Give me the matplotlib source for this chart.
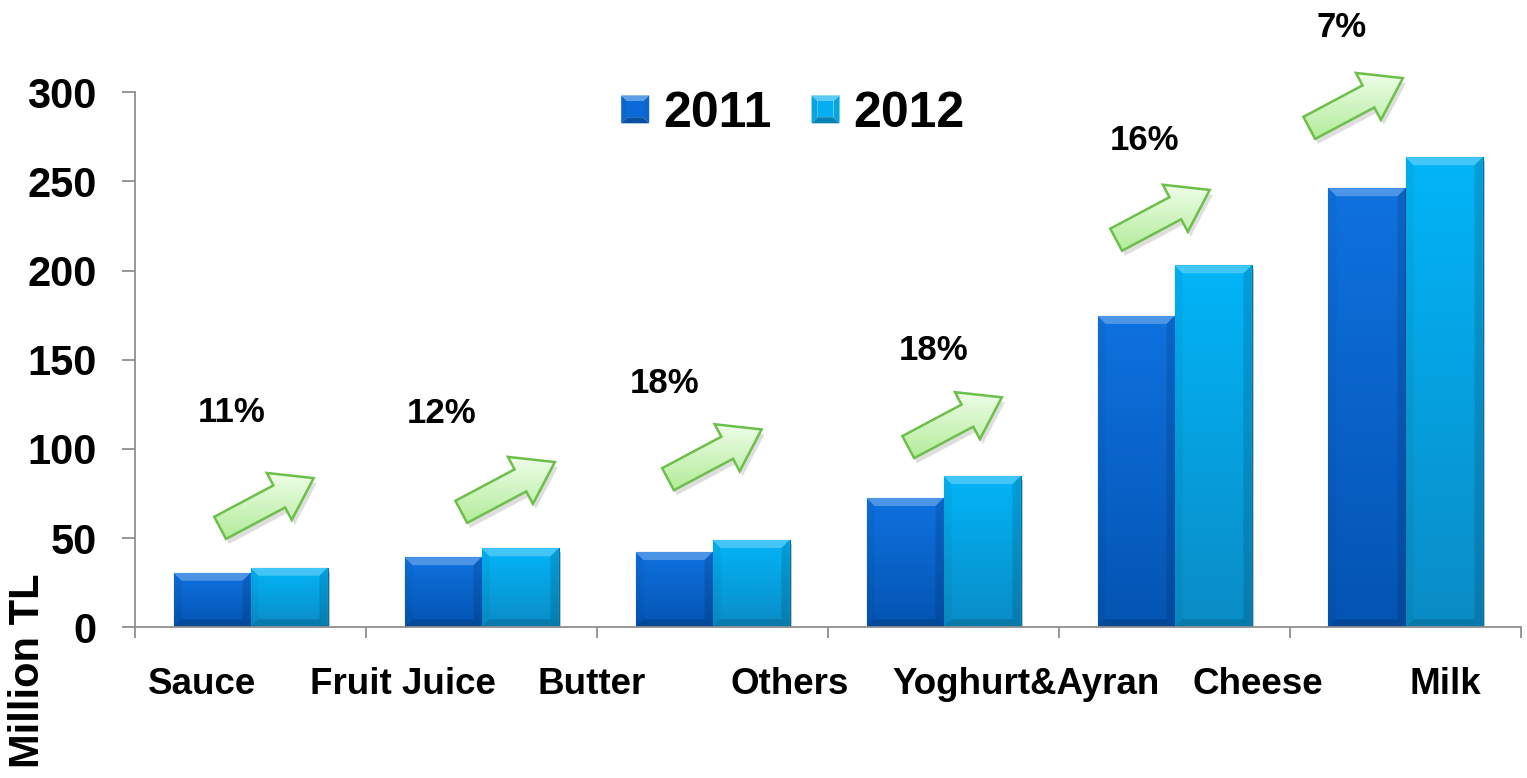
import numpy as np
import matplotlib
matplotlib.use("Agg")
import matplotlib.pyplot as plt
from matplotlib.patches import Polygon, Rectangle
from matplotlib.colors import LinearSegmentedColormap, to_rgb
from matplotlib.legend_handler import HandlerBase
import matplotlib.patheffects as pe

# ---- data -------------------------------------------------------------
years = ["2011", "2012"]
sales_2011 = [30.6, 39.3, 42.2, 72.5, 174.6, 246.2]   # million TL
sales_2012 = [33.4, 44.3, 49.0, 84.8, 203.0, 263.6]   # million TL
growth_labels = ["11%", "12%", "18%", "18%", "16%", "7%"]
axis_labels = ["Sauce", "Fruit Juice", "Butter", "Others",
               "Yoghurt&Ayran", "Cheese", "Milk"]
y_ticks = [0, 50, 100, 150, 200, 250, 300]

# ---- layout / style ---------------------------------------------------
label_x = [-0.21, 0.66, 1.478, 2.335, 3.357, 4.361, 5.171]
growth_text_pos = [(-0.08, 115.3), (0.825, 114.6), (1.794, 131.4),
                   (2.959, 149.9), (3.872, 267.7), (4.723, 331.1)]
arrow_centres = [(0.071, 69.7), (1.115, 78.7), (2.01, 97.0),
                 (3.05, 115.0), (3.95, 231.3), (4.786, 294.0)]

FONT = ["Liberation Sans", "DejaVu Sans"]
plt.rcParams["font.family"] = FONT
plt.rcParams["font.weight"] = "bold"

C2011_TOP, C2011_BOT = "#0f72e0", "#0454b2"
C2012_TOP, C2012_BOT = "#02b5f8", "#0a8cc6"
AXIS_GREY = "#8f8f8f"

W_PX, H_PX = 1527, 778
fig = plt.figure(figsize=(W_PX / 100, H_PX / 100), dpi=100)
fig.patch.set_facecolor("white")

y0_px = 627.3          # pixel row of value 0
px_per_unit = 535.0 / 300.0
ax = fig.add_axes([135 / W_PX, 1 - y0_px / H_PX, (1521 - 135) / W_PX, y0_px / H_PX])
XLIM = (-0.5, 5.5)
YLIM = (0, y0_px / px_per_unit)
ax.set_xlim(*XLIM)
ax.set_ylim(*YLIM)
ax.set_autoscale_on(False)

for s in ("top", "right"):
    ax.spines[s].set_visible(False)
for s in ("left", "bottom"):
    ax.spines[s].set_color(AXIS_GREY)
    ax.spines[s].set_linewidth(1.3)
ax.spines["left"].set_bounds(0, 300)

ax.set_yticks(y_ticks)
ax.set_yticklabels([str(v) for v in y_ticks], fontsize=30, fontweight="bold")
ax.tick_params(axis="y", length=9.5, width=1.3, color=AXIS_GREY, pad=18)
ax.set_xticks([])
ax.set_xticks(np.arange(-0.5, 6.0, 1.0), minor=True)
ax.tick_params(axis="x", which="minor", length=8, width=1.3, color=AXIS_GREY,
               direction="out")

# pixel -> data scale factors
fig.canvas.draw()
sx = ax.bbox.width / (XLIM[1] - XLIM[0])
sy = ax.bbox.height / (YLIM[1] - YLIM[0])


def vgrad(top, bottom):
    return LinearSegmentedColormap.from_list("g", [bottom, top])


grad = np.linspace(0, 1, 256).reshape(-1, 1)


def bevel_bar(rect, top, bottom):
    x0, yb = rect.get_x(), rect.get_y()
    w, h = rect.get_width(), rect.get_height()
    im = ax.imshow(grad, cmap=vgrad(top, bottom), origin="lower", aspect="auto",
                   extent=(x0, x0 + w, yb, yb + h), zorder=2.1,
                   interpolation="bicubic")
    im.set_clip_path(rect)
    b = 8 / sx
    c = 8 / sy
    facets = [
        ([(x0, yb + h), (x0 + w, yb + h), (x0 + w - b, yb + h - c), (x0 + b, yb + h - c)], "white", 0.26),
        ([(x0, yb), (x0, yb + h), (x0 + b, yb + h - c), (x0 + b, yb + c)], "black", 0.04),
        ([(x0 + w, yb), (x0 + w, yb + h), (x0 + w - b, yb + h - c), (x0 + w - b, yb + c)], "black", 0.12),
        ([(x0, yb), (x0 + w, yb), (x0 + w - b, yb + c), (x0 + b, yb + c)], "black", 0.14),
    ]
    for pts, col, a in facets:
        ax.add_patch(Polygon(pts, closed=True, facecolor=col, alpha=a,
                             edgecolor="none", zorder=2.2))


x = np.arange(len(sales_2011))
bw = 1 / 3
shadow = [pe.SimplePatchShadow(offset=(1.5, -3), shadow_rgbFace="black", alpha=0.2),
          pe.Normal()]
bars1 = ax.bar(x - bw / 2, sales_2011, bw, color=C2011_BOT, edgecolor="#064a98",
               linewidth=0.8, zorder=2, label=years[0])
bars2 = ax.bar(x + bw / 2, sales_2012, bw, color=C2012_BOT, edgecolor="#0b6f9c",
               linewidth=0.8, zorder=2, label=years[1])
for r in bars1:
    r.set_path_effects(shadow)
    bevel_bar(r, C2011_TOP, C2011_BOT)
for r in bars2:
    r.set_path_effects(shadow)
    bevel_bar(r, C2012_TOP, C2012_BOT)

# ---- growth arrows ------------------------------------------------------
ang = np.deg2rad(28)
u = np.array([np.cos(ang), np.sin(ang)])
v = np.array([-np.sin(ang), np.cos(ang)])
arrow_uv = [(-53, -12.5), (14, -12.5), (14, -26.6), (53, 0),
            (14, 26.6), (14, 12.5), (-53, 12.5)]
green_cmap = vgrad("#eefde8", "#b2ec9a")

for cx, cy in arrow_centres:
    pts = [(cx + (a * u[0] + b * v[0]) / sx, cy + (a * u[1] + b * v[1]) / sy)
           for a, b in arrow_uv]
    sh = [(px + 3 / sx, py - 5 / sy) for px, py in pts]
    ax.add_patch(Polygon(sh, closed=True, facecolor="black", alpha=0.13,
                         edgecolor="none", zorder=2.9))
    arr = Polygon(pts, closed=True, facecolor="none", edgecolor="#6cc04a",
                  linewidth=1.8, joinstyle="miter", zorder=3.1)
    ax.add_patch(arr)
    xs = [p[0] for p in pts]
    ys = [p[1] for p in pts]
    im = ax.imshow(grad, cmap=green_cmap, origin="lower", aspect="auto",
                   extent=(min(xs), max(xs), min(ys), max(ys)), zorder=3.0)
    im.set_clip_path(arr)

for (tx, ty), txt in zip(growth_text_pos, growth_labels):
    ax.text(tx, ty, txt, ha="center", va="baseline", fontsize=25,
            fontweight="bold", zorder=4)

# ---- category labels -----------------------------------------------------
lab_y = (y0_px - 693.5) / ax.bbox.height
for lx, txt in zip(label_x, axis_labels):
    ax.text(lx, lab_y, txt, transform=ax.get_xaxis_transform(), ha="center",
            va="baseline", fontsize=26.5, fontweight="bold")

fig.text(28 / W_PX, 1 - 671 / H_PX, "Million TL", rotation=90, ha="center",
         va="center", fontsize=30, fontweight="bold")


# ---- legend with bevelled square keys ---------------------------------
class BevelKey(HandlerBase):
    def create_artists(self, legend, orig_handle, xdescent, ydescent,
                       width, height, fontsize, trans):
        base = np.array(to_rgb(orig_handle.get_facecolor()))
        s = min(width, height)
        x0 = -xdescent + (width - s) / 2
        y0 = -ydescent + (height - s) / 2
        i = s * 0.22
        lt = np.clip(base + (1 - base) * 0.35, 0, 1)
        dk = base * 0.75
        md = base * 0.95
        corners = [(x0, y0), (x0 + s, y0), (x0 + s, y0 + s), (x0, y0 + s)]
        inner = [(x0 + i, y0 + i), (x0 + s - i, y0 + i),
                 (x0 + s - i, y0 + s - i), (x0 + i, y0 + s - i)]
        facets = [
            ([corners[3], corners[2], inner[2], inner[3]], lt),
            ([corners[0], corners[3], inner[3], inner[0]], md),
            ([corners[1], corners[2], inner[2], inner[1]], md),
            ([corners[0], corners[1], inner[1], inner[0]], dk),
            (inner, base),
        ]
        arts = []
        for pts, col in facets:
            p = Polygon(pts, closed=True, facecolor=col, edgecolor="none",
                        transform=trans)
            arts.append(p)
        return arts


h1 = Rectangle((0, 0), 1, 1, facecolor="#0b6ad8")
h2 = Rectangle((0, 0), 1, 1, facecolor="#05aef0")
leg = ax.legend([h1, h2], years, handler_map={Rectangle: BevelKey()},
                loc="center", bbox_to_anchor=(793 / W_PX, 1 - 114 / H_PX),
                bbox_transform=fig.transFigure, ncol=2, frameon=False,
                prop={"family": FONT, "weight": "bold", "size": 36},
                handlelength=0.56, handleheight=0.56, handletextpad=0.28,
                columnspacing=0.8, borderpad=0, borderaxespad=0)

ax.set_xlim(*XLIM)
ax.set_ylim(*YLIM)
fig.savefig("out.png", dpi=100, facecolor="white")
